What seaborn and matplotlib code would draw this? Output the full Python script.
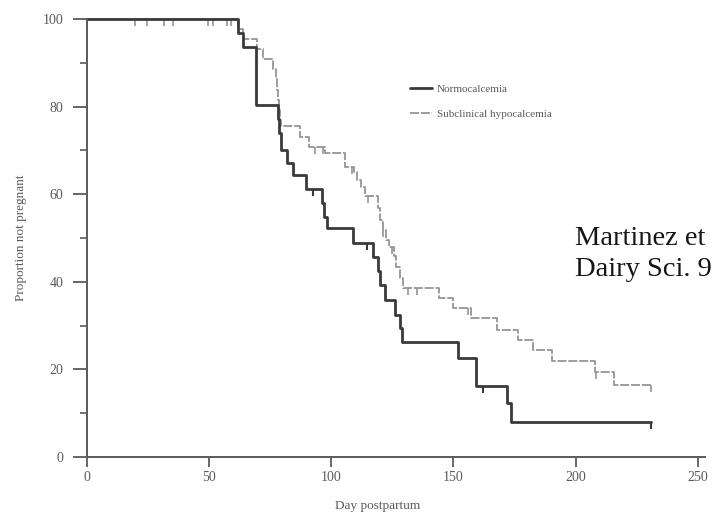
import numpy as np
import pandas as pd
import matplotlib
matplotlib.use("Agg")
import matplotlib.pyplot as plt
import seaborn as sns
from matplotlib.ticker import MultipleLocator

# ---------------- data ----------------
normo_days = [0, 62, 64, 69, 78, 78.8, 79.6, 82, 84.5, 89.5, 96.3, 97.2, 98.4,
              109, 117.2, 119.3, 119.8, 122, 126, 128.3, 128.8, 152, 159.4,
              172, 173.5, 230.7]
normo_vals = [100, 96.8, 93.5, 80.4, 77.2, 74.0, 70.0, 67.2, 64.4, 61.3, 58.1,
              54.9, 52.3, 48.9, 45.7, 42.5, 39.3, 35.8, 32.4, 29.4, 26.3, 22.6,
              16.2, 12.3, 8.1, 8.1]
normo_censor = [92.7, 114.8, 162, 230.7]

sub_days = [0, 62, 64, 69.5, 72, 76, 77.3, 77.6, 78, 78.5, 79, 79.5, 87.2, 90.8,
            97.5, 105.7, 109.5, 110.5, 112, 114, 119.3, 119.8, 121, 122.5,
            123.5, 125.5, 126.5, 128, 129.5, 144, 150, 157, 168, 176.6, 182.5,
            190.5, 208, 215.7, 230.7]
sub_vals = [100, 97.7, 95.4, 93.1, 90.8, 88.5, 86.2, 83.9, 81.6, 79.3, 77.0,
            75.6, 73.1, 70.8, 69.3, 66.3, 65.0, 63.2, 61.6, 59.6, 56.9, 54.2,
            51.8, 49.6, 47.9, 46.0, 43.4, 40.8, 38.6, 36.4, 34.1, 31.8, 29.1,
            26.7, 24.4, 21.9, 19.5, 16.4, 16.4]
sub_censor = [19.7, 24.7, 31.6, 35.4, 49.7, 51.5, 57.2, 58.9, 93.4, 96.7,
              108.6, 115.2, 121.3, 125.0, 131.6, 135.2, 156, 208.5, 230.7]

series_labels = ["Normocalcemia", "Subclinical hypocalcemia"]
x_ticks = [0, 50, 100, 150, 200, 250]
y_ticks = [0, 20, 40, 60, 80, 100]
x_label = "Day postpartum"
y_label = "Proportion not pregnant"
citation = ["Martinez et", "Dairy Sci. 9"]

# ---------------- style ----------------
sns.set_theme(style="white")
plt.rcParams["font.family"] = ["Liberation Serif", "DejaVu Serif"]

axis_col = "#5a5a5a"
dark_col = "#3a3a3a"
gray_col = "#959595"


def step_value(days, vals, t):
    i = np.searchsorted(np.asarray(days), t, side="right") - 1
    return np.asarray(vals)[i]


fig = plt.figure(figsize=(7.15, 5.2), dpi=100)
ax = fig.add_axes([87 / 715, 1 - 457 / 520, 618 / 715, 438 / 520])

df_n = pd.DataFrame({"day": normo_days, "p": normo_vals})
df_s = pd.DataFrame({"day": sub_days, "p": sub_vals})

sns.lineplot(data=df_s, x="day", y="p", ax=ax, estimator=None,
             drawstyle="steps-post", color=gray_col, linewidth=1.3,
             linestyle=(0, (5, 1)), clip_on=False, zorder=3)
sns.lineplot(data=df_n, x="day", y="p", ax=ax, estimator=None,
             drawstyle="steps-post", color=dark_col, linewidth=2.0,
             clip_on=False, zorder=4)
line_sub, line_norm = ax.lines[0], ax.lines[1]

# censoring ticks
ax.plot(sub_censor, [step_value(sub_days, sub_vals, t) for t in sub_censor],
        linestyle="none", marker=3, markersize=5, markeredgewidth=1.2,
        color=gray_col, clip_on=False, zorder=3)
ax.plot(normo_censor, [step_value(normo_days, normo_vals, t) for t in normo_censor],
        linestyle="none", marker=3, markersize=5, markeredgewidth=1.5,
        color=dark_col, clip_on=False, zorder=4)

ax.set_xlim(0, 253)
ax.set_ylim(0, 100)
ax.set_xticks(x_ticks)
ax.set_yticks(y_ticks)
ax.yaxis.set_minor_locator(MultipleLocator(10))

for s in ["top", "right"]:
    ax.spines[s].set_visible(False)
for s in ["left", "bottom"]:
    ax.spines[s].set_color(axis_col)
    ax.spines[s].set_linewidth(1.4)
    ax.spines[s].set_zorder(5)

ax.tick_params(axis="y", which="major", direction="out", length=10, width=1.3,
               color=axis_col, pad=7, labelsize=10, labelcolor=axis_col, left=True)
ax.tick_params(axis="y", which="minor", direction="out", length=5, width=1.2,
               color=axis_col, left=True)
ax.tick_params(axis="x", which="major", direction="out", length=7, width=1.3,
               color=axis_col, pad=3, labelsize=10, labelcolor=axis_col, bottom=True)

ax.set_xlabel(x_label, fontsize=9.5, color=axis_col)
ax.set_ylabel(y_label, fontsize=9.5, color=axis_col)
ax.xaxis.set_label_coords(0.471, -0.098)
ax.yaxis.set_label_coords(-0.097, 0.5)

leg = ax.legend(handles=[line_norm, line_sub], labels=series_labels,
                loc="upper left", bbox_to_anchor=(0.523, 0.851), frameon=False,
                fontsize=8, handlelength=2.0, handletextpad=0.4,
                labelspacing=1.35, borderpad=0, borderaxespad=0)
for t in leg.get_texts():
    t.set_color(axis_col)

fig.text(575 / 715, 1 - 245 / 520, citation[0], fontsize=20.5, va="baseline",
         ha="left", color="#161616")
fig.text(575 / 715, 1 - 276 / 520, citation[1], fontsize=20.5, va="baseline",
         ha="left", color="#161616")

fig.savefig("out.png", dpi=100)
